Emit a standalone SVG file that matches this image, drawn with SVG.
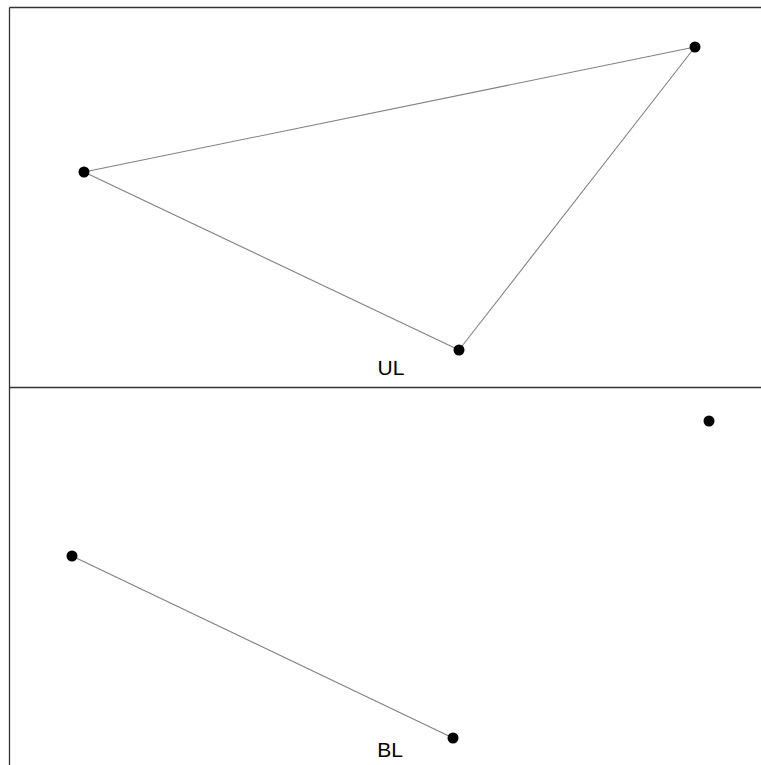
<svg xmlns="http://www.w3.org/2000/svg" width="761" height="765" viewBox="0 0 761 765">
<style>
.frame{stroke:#333;stroke-width:1.3;fill:none}
.edge{stroke:#808080;stroke-width:1.1;fill:none}
.node{fill:#000}
.lbl{font-family:"Liberation Sans",Arial,sans-serif;font-size:21px;fill:#000;text-anchor:middle}
</style>
<rect width="761" height="765" fill="#fff"/>
<g id="frames">
<line class="frame" x1="9.5" y1="7.5" x2="761" y2="7.5"/>
<line class="frame" x1="9.5" y1="7.5" x2="9.5" y2="765"/>
<line class="frame" x1="9.5" y1="387.5" x2="761" y2="387.5"/>
</g>
<g id="connectors">
<line class="edge" x1="84" y1="172" x2="695" y2="47"/>
<line class="edge" x1="84" y1="172" x2="459" y2="350"/>
<line class="edge" x1="695" y1="47" x2="459" y2="350"/>
<line class="edge" x1="72" y1="556" x2="453" y2="738"/>
</g>
<g id="n1"><circle class="node" cx="84" cy="172" r="5.5"/></g>
<g id="n2"><circle class="node" cx="695" cy="47" r="5.5"/></g>
<g id="n3"><circle class="node" cx="459" cy="350" r="5.5"/></g>
<g id="n4"><circle class="node" cx="72" cy="556" r="5.5"/></g>
<g id="n5"><circle class="node" cx="709" cy="421" r="5.5"/></g>
<g id="n6"><circle class="node" cx="453" cy="738" r="5.5"/></g>
<g id="labels">
<text class="lbl" x="391" y="374.5">UL</text>
<text class="lbl" x="390" y="756.5">BL</text>
</g>
</svg>
